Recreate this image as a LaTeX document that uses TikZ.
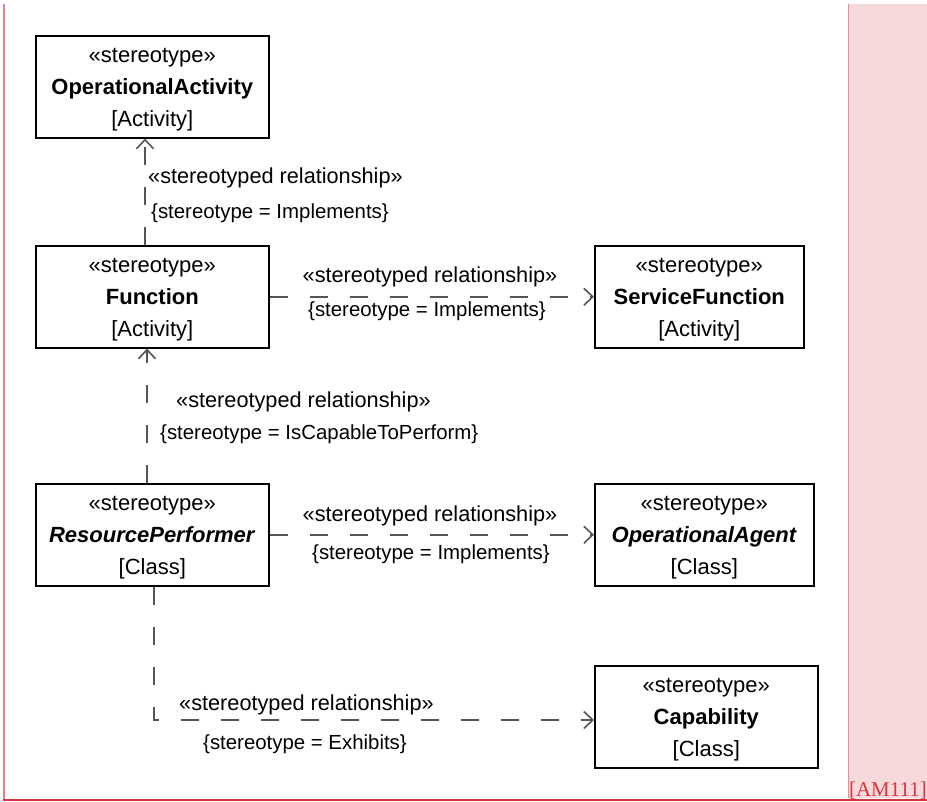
\documentclass[tikz,border=0pt]{standalone}
\usepackage{fontspec}
\setmainfont{Liberation Sans}
\newfontfamily\serifam{Liberation Serif}
\usetikzlibrary{arrows.meta}
\definecolor{pinkc}{RGB}{247,217,219}
\definecolor{pinkedge}{RGB}{238,140,145}
\definecolor{leftc}{RGB}{236,130,136}
\definecolor{botc}{RGB}{214,54,62}
\definecolor{relc}{RGB}{85,85,85}
\newcommand{\stt}{\rule{0pt}{20.5pt}«stereotype»}
\tikzset{
  umlbox/.style={draw=black, line width=1.6pt, rectangle, inner sep=0pt, anchor=north west,
    minimum height=102pt, align=center, font=\fontsize{22}{32}\selectfont},
  rel/.style={draw=relc, line width=1.6pt, dash pattern=on 18pt off 22pt,
    -{Straight Barb[length=9pt,width=17pt,line width=1.6pt]}},
  lab/.style={inner sep=0pt, font=\fontsize{21.7}{25}\selectfont},
  blab/.style={inner sep=0pt, font=\fontsize{20.4}{24}\selectfont}
}
\begin{document}
\begin{tikzpicture}[x=1pt,y=-1pt]
\useasboundingbox (0,0) rectangle (927,802);
% frame
\fill[pinkc] (848,4) rectangle (927,798);
\draw[pinkedge, line width=1pt] (848.5,4) -- (848.5,798);
\draw[leftc, line width=2pt] (4,4) -- (4,800);
\draw[botc, line width=2pt] (3,800) -- (927,800);
\node[anchor=base east, inner sep=0pt, text=botc, font=\serifam\fontsize{21}{21}\selectfont] (tag) at (927,796) {[AM111]};
% boxes
\node[umlbox, minimum width=233pt] (oa) at (35,35) {\stt\\\textbf{OperationalActivity}\\{[Activity]}};
\node[umlbox, minimum width=233pt] (func) at (35,245) {\stt\\\textbf{Function}\\{[Activity]}};
\node[umlbox, minimum width=209pt] (sf) at (594,245) {\stt\\\textbf{ServiceFunction}\\{[Activity]}};
\node[umlbox, minimum width=233pt] (rp) at (35,483) {\stt\\\textbf{\textit{ResourcePerformer}}\\{[Class]}};
\node[umlbox, minimum width=219pt] (oag) at (594,483) {\stt\\\textbf{\textit{OperationalAgent}}\\{[Class]}};
\node[umlbox, minimum width=223pt] (cap) at (594,665) {\stt\\\textbf{Capability}\\{[Class]}};
% helper coordinates
\coordinate (x1) at (145,0);
\coordinate (x3) at (147,0);
\coordinate (x5) at (154,0);
\coordinate (bend) at (154,720);
% connectors
\draw[rel] (func.north -| x1) -- (oa.south -| x1);
\draw[rel] (func.east) -- (sf.west);
\draw[rel] (rp.north -| x3) -- (func.south -| x3);
\draw[rel] (oag.west -| rp.east) -- (oag.west);
\draw[rel] (rp.south -| x5) -- (bend) -- (bend -| cap.west);
% labels
\node[lab, anchor=west] (l1a) at (148,178) {«stereotyped relationship»};
\node[blab, anchor=west] (l1b) at (151,213) {\{stereotype = Implements\}};
\node[lab] (l2a) at (430,277) {«stereotyped relationship»};
\node[blab] (l2b) at (427,311) {\{stereotype = Implements\}};
\node[lab, anchor=west] (l3a) at (176,402) {«stereotyped relationship»};
\node[blab, anchor=west] (l3b) at (160,434) {\{stereotype = IsCapableToPerform\}};
\node[lab] (l4a) at (430,516) {«stereotyped relationship»};
\node[blab] (l4b) at (431,554) {\{stereotype = Implements\}};
\node[lab, anchor=west] (l5a) at (179,705) {«stereotyped relationship»};
\node[blab, anchor=west] (l5b) at (203,744) {\{stereotype = Exhibits\}};
\end{tikzpicture}
\end{document}
